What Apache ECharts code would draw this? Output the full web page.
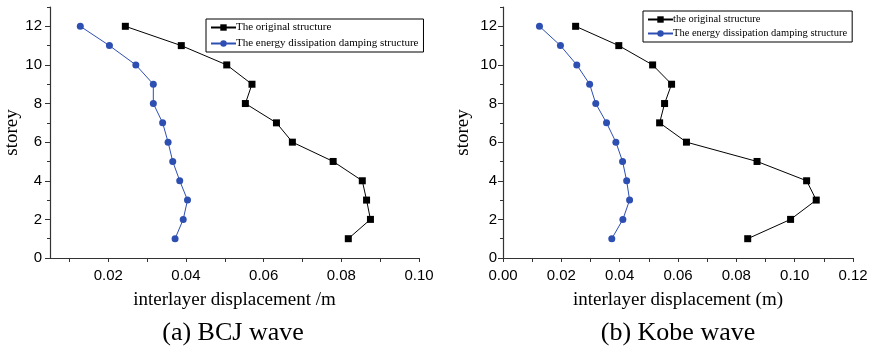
<!DOCTYPE html>
<html>
<head>
<meta charset="utf-8">
<script src="https://cdn.jsdelivr.net/npm/echarts@6/dist/echarts.min.js"></script>
<style>
  html, body { margin: 0; padding: 0; background: #fff; }
  #chart { width: 878px; height: 349px; }
</style>
</head>
<body>
<div id="chart"></div>
<script>
// storey numbers, top to bottom
const storeys = [12, 11, 10, 9, 8, 7, 6, 5, 4, 3, 2, 1];

// (a) BCJ wave, interlayer displacement (m)
const bcjOriginal = [0.0244, 0.0388, 0.0505, 0.0570, 0.0553, 0.0633, 0.0674, 0.0779, 0.0854, 0.0865, 0.0875, 0.0818];
const bcjDamped = [0.0128, 0.0203, 0.0271, 0.0316, 0.0316, 0.0340, 0.0354, 0.0366, 0.0384, 0.0404, 0.0393, 0.0372];

// (b) Kobe wave
const kobeOriginal = [0.0249, 0.0397, 0.0513, 0.0578, 0.0554, 0.0537, 0.0629, 0.0871, 0.1041, 0.1074, 0.0986, 0.0839];
const kobeDamped = [0.0125, 0.0197, 0.0253, 0.0297, 0.0318, 0.0355, 0.0387, 0.0410, 0.0424, 0.0434, 0.0411, 0.0373];

// tick labels
const bcjXLabels = [0.02, 0.04, 0.06, 0.08, 0.10];
const bcjXTicks = [0.01, 0.02, 0.03, 0.04, 0.05, 0.06, 0.07, 0.08, 0.09, 0.10];
const kobeXLabels = [0, 0.02, 0.04, 0.06, 0.08, 0.10, 0.12];
const kobeXTicks = [0, 0.01, 0.02, 0.03, 0.04, 0.05, 0.06, 0.07, 0.08, 0.09, 0.10, 0.11, 0.12];
const yLabels = [0, 2, 4, 6, 8, 10, 12];
const yMinorTicks = [1, 3, 5, 7, 9, 11, 13];

const nameOriginalA = 'The original structure';
const nameOriginalB = 'the original structure';
const nameDamped = 'The energy dissipation damping structure';

const pairs = (xs) => xs.map((x, i) => [x, storeys[i]]);

const AXIS_COLOR = '#333';
const BLUE = '#2e4fb2';
const SANS = 'Liberation Sans, Arial, sans-serif';
const SERIF = 'Liberation Serif, Times New Roman, serif';

const chart = echarts.init(document.getElementById('chart'), null, { renderer: 'canvas' });

function xAxis(gridIndex, min, max, labels, ticks, name) {
  return {
    type: 'value', gridIndex, min, max,
    name, nameLocation: 'middle', nameGap: 33,
    nameTextStyle: { fontFamily: SERIF, fontSize: 19, color: '#000' },
    axisLine: { show: true, onZero: false, lineStyle: { color: AXIS_COLOR, width: 1.2 } },
    axisTick: { show: true, length: 4, customValues: ticks, lineStyle: { color: AXIS_COLOR } },
    axisLabel: {
      customValues: labels, margin: 10, fontFamily: SANS, fontSize: 15, color: '#000',
      formatter: v => v.toFixed(2)
    },
    splitLine: { show: false }
  };
}

function yAxis(gridIndex, nameGap, labelMargin) {
  return {
    type: 'value', gridIndex, min: 0, max: 13, position: 'left',
    name: 'storey', nameLocation: 'middle', nameGap,
    nameTextStyle: { fontFamily: SERIF, fontSize: 19, color: '#000' },
    axisLine: { show: true, onZero: false, lineStyle: { color: AXIS_COLOR, width: 1.2 } },
    axisTick: { show: true, length: 5, customValues: yLabels, lineStyle: { color: AXIS_COLOR } },
    axisLabel: { customValues: yLabels, margin: labelMargin, fontFamily: SANS, fontSize: 15, color: '#000' },
    splitLine: { show: false }
  };
}

// second y axis only for the short minor ticks
function yMinor(gridIndex) {
  return {
    type: 'value', gridIndex, min: 0, max: 13, position: 'left',
    axisLine: { show: false, onZero: false },
    axisTick: { show: true, length: 3, customValues: yMinorTicks, lineStyle: { color: AXIS_COLOR } },
    axisLabel: { show: false },
    splitLine: { show: false }
  };
}

function lineSeries(name, data, color, symbol, xi, yi) {
  return {
    type: 'line', name, data, xAxisIndex: xi, yAxisIndex: yi,
    symbol, symbolSize: 7,
    itemStyle: { color },
    lineStyle: { color, width: 1 },
    animation: false
  };
}

const option = {
  backgroundColor: '#fff',
  animation: false,
  title: [
    { text: '(a) BCJ wave', left: 233, top: 320, textAlign: 'center', padding: 0,
      textStyle: { fontFamily: SERIF, fontSize: 26, fontWeight: 'normal', color: '#000' } },
    { text: '(b) Kobe wave', left: 678, top: 320, textAlign: 'center', padding: 0,
      textStyle: { fontFamily: SERIF, fontSize: 26, fontWeight: 'normal', color: '#000' } }
  ],
  legend: [
    {
      orient: 'vertical', left: 206, top: 19, padding: [3, 5, 3, 4], itemGap: 5,
      itemWidth: 25, itemHeight: 8,
      borderColor: '#000', borderWidth: 1,
      data: [nameOriginalA, nameDamped],
      textStyle: { fontFamily: SERIF, fontSize: 11, color: '#000', padding: [0, 0, 0, -5] }
    },
    {
      orient: 'vertical', left: 643, top: 11, padding: [3, 5, 3, 4], itemGap: 3,
      itemWidth: 25, itemHeight: 8,
      borderColor: '#000', borderWidth: 1,
      data: [nameOriginalB, nameDamped],
      textStyle: { fontFamily: SERIF, fontSize: 10.5, color: '#000', padding: [0, 0, 0, -5] }
    }
  ],
  grid: [
    { left: 50, top: 7, width: 369, height: 251 },
    { left: 503, top: 7, width: 350, height: 251 }
  ],
  xAxis: [
    xAxis(0, 0.005, 0.10, bcjXLabels, bcjXTicks, 'interlayer displacement /m'),
    xAxis(1, 0, 0.12, kobeXLabels, kobeXTicks, 'interlayer displacement (m)')
  ],
  yAxis: [
    yAxis(0, 26, 8),
    yAxis(1, 30, 6),
    yMinor(0),
    yMinor(1)
  ],
  series: [
    lineSeries(nameOriginalA, pairs(bcjOriginal), '#000', 'rect', 0, 0),
    lineSeries(nameDamped, pairs(bcjDamped), BLUE, 'circle', 0, 0),
    lineSeries(nameOriginalB, pairs(kobeOriginal), '#000', 'rect', 1, 1),
    lineSeries(nameDamped, pairs(kobeDamped), BLUE, 'circle', 1, 1)
  ]
};

chart.setOption(option);
window.addEventListener('resize', () => chart.resize());
</script>
</body>
</html>
